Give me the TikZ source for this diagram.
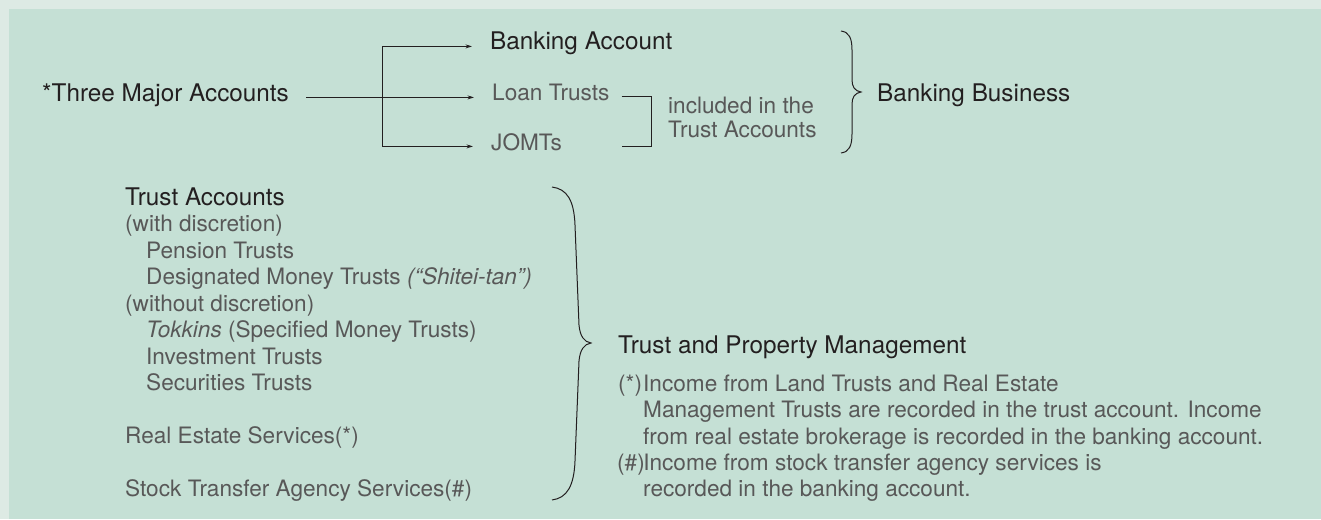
\documentclass[tikz,border=0pt]{standalone}
\usepackage{fontspec}
\setmainfont{TeX Gyre Heros}
\usetikzlibrary{calc,arrows.meta}
\definecolor{paper}{RGB}{221,234,228}
\definecolor{panel}{RGB}{197,224,213}
\definecolor{ink}{RGB}{35,31,32}
\definecolor{softink}{RGB}{88,88,88}

\begin{document}
\begin{tikzpicture}[x=1pt,y=-1pt,
                        txt/.style={inner sep=0pt,anchor=base west,text height=.718em,text depth=0pt},
                        headtxt/.style={txt,text=ink,font=\fontsize{24.3}{28}\selectfont},
                        itemtxt/.style={txt,text=softink,font=\fontsize{22.6}{26}\selectfont},
                        link/.style={line width=1pt,draw=ink},
                        feed/.style={link,-{Stealth[length=6.5pt,width=4pt]},shorten >=18pt}
                        ]
                        \useasboundingbox (0,0) rectangle (1321,519);
                        % panel
                        \fill[paper] (0,0) rectangle (1321,519);
                        \fill[panel] (9,9) rectangle (1321,519);

                        % three accounts and where they go
                        \node[headtxt] (three) at (42,101) {*Three Major Accounts};
                        \node[headtxt] (bank) at (490,50) {Banking Account};
                        \node[itemtxt] (loan) at (492,100) {Loan Trusts};
                        \node[itemtxt] (jomt) at (491,150) {JOMTs};
                        \path (three.east) ++(93,0) coordinate (fork);
                        \draw[feed,shorten <=17pt] (three.east) -- (three.east -| loan.west);
                        \draw[feed] (fork) |- (bank.west);
                        \draw[feed] (fork) |- (jomt.west);

                        % bracket round loan trusts and jomts
                        \coordinate (bkt) at ($ (loan.east) + (12,0) $);
                        \draw[link] (bkt) -- ++(30,0) |- (bkt |- jomt.west);
                        \node[itemtxt] (incl) at (668,113) {included in the};
                        \node[itemtxt] (incl2) at (668,137) {Trust Accounts};

                        % brace for banking business
                        \draw[link] (841,31) .. controls (849,32) and (852,38) .. (852,50) -- (852,80)
                            .. controls (852,87) and (855,91) .. (861,92)
                            .. controls (855,93) and (852,97) .. (852,104) -- (852,134)
                            .. controls (852,146) and (849,152) .. (841,153);
                        \node[headtxt] (bankbiz) at (877,101) {Banking Business};

                        % trust accounts list
                        \node[headtxt] (trust) at (125,205) {Trust Accounts};
                        \foreach \n/\x/\y/\txt in {1/125/231.5/{(with discretion)},
                                                   2/146/258/{Pension Trusts},
                                                   3/146/284.5/{Designated Money Trusts \textit{(“Shitei-tan”)}},
                                                   4/125/311/{(without discretion)},
                                                   5/146/337.5/{\textit{Tokkins} (Specified Money Trusts)},
                                                   6/146/364/{Investment Trusts},
                                                   7/146/390.5/{Securities Trusts},
                                                   8/125/443.5/{Real Estate Services(*)},
                                                   9/125/496.5/{Stock Transfer Agency Services(\#)}}
                            \node[itemtxt] (ta\n) at (\x,\y) {\txt};

                        % brace for trust and property management
                        \draw[link] (552,187) .. controls (567,189) and (574,200) .. (575,225) -- (579,325)
                            .. controls (580,336) and (584,342) .. (591,343)
                            .. controls (584,344) and (580,350) .. (579,361) -- (575,461)
                            .. controls (574,486) and (567,498) .. (552,500);
                        \node[headtxt] (tpm) at (618,353) {Trust and Property Management};

                        % notes
                        \node[itemtxt] (star) at (618,391) {(*)};
                        \foreach \n/\y/\txt in {1/391/{Income from Land Trusts and Real Estate},
                                                2/417/{Management Trusts are recorded in the trust account. Income},
                                                3/444/{from real estate brokerage is recorded in the banking account.}}
                            \node[itemtxt] (nt\n) at (643,\y) {\txt};
                        \node[itemtxt] (hash) at (617,470) {(\#)\kern-1.5pt Income from stock transfer agency services is};
                        \node[itemtxt] (nt5) at (643,496) {recorded in the banking account.};
                \end{tikzpicture}
\end{document}
